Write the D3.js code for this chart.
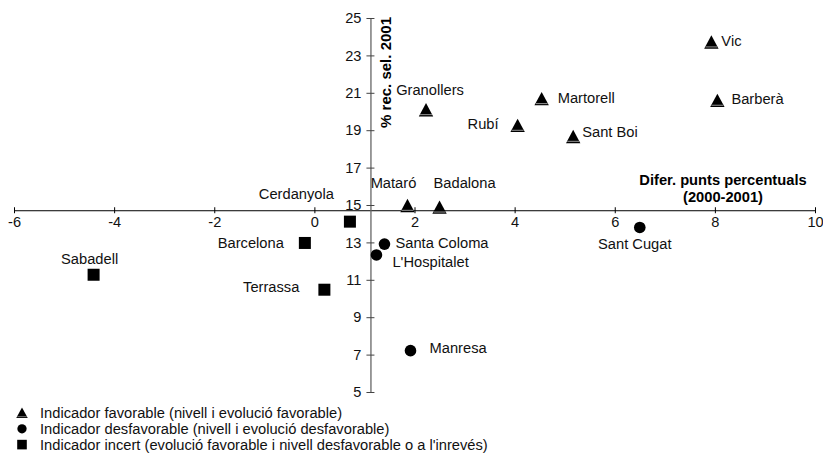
<!DOCTYPE html>
<html>
<head>
<meta charset="utf-8">
<script src="https://cdn.jsdelivr.net/npm/d3@7"></script>
<style>
  body { margin: 0; background: #fff; }
  svg { display: block; font-family: "Liberation Sans", Arial, Helvetica, sans-serif; }
</style>
</head>
<body>
<svg width="823" height="457"></svg>
<script>
// municipis, diferència 2000-2001 (x), % 2001 (y), tipus d'indicador
var names = ["Vic", "Granollers", "Martorell", "Barberà", "Rubí", "Sant Boi", "Mataró", "Badalona",
             "Sant Cugat", "Santa Coloma", "L'Hospitalet", "Manresa",
             "Cerdanyola", "Barcelona", "Sabadell", "Terrassa"];
var diffValues = [7.93, 2.23, 4.54, 8.05, 4.06, 5.17, 1.86, 2.5,
                  6.5, 1.4, 1.24, 1.92,
                  0.71, -0.19, -4.41, 0.2];
var pctValues = [23.7, 20.08, 20.67, 20.58, 19.24, 18.65, 14.96, 14.87,
                 13.8, 12.91, 12.33, 7.21,
                 14.11, 12.97, 11.27, 10.47];
var kinds = ["fav", "fav", "fav", "fav", "fav", "fav", "fav", "fav",
             "desf", "desf", "desf", "desf",
             "inc", "inc", "inc", "inc"];

var xTicks = [-6, -4, -2, 0, 2, 4, 6, 8, 10];
var yTicks = [5, 7, 9, 11, 13, 15, 17, 19, 21, 23, 25];
var xCross = 14.72;  // on talla l'eix X
var yCross = 1.12;   // on talla l'eix Y

var legendKinds = ["fav", "desf", "inc"];
var legendTexts = ["Indicador favorable (nivell i evolució favorable)",
                   "Indicador desfavorable (nivell i evolució desfavorable)",
                   "Indicador incert (evolució favorable i nivell desfavorable o a l'inrevés)"];

var svg = d3.select("svg");

var x = d3.scaleLinear().domain([-6, 10]).range([14, 815]);
var y = d3.scaleLinear().domain([5, 25]).range([392, 18]);

// eix X
var gx = svg.append("g").attr("transform", "translate(0," + y(xCross) + ")")
  .call(d3.axisBottom(x).tickValues(xTicks).tickSize(3).tickSizeOuter(0));
gx.select(".domain").attr("stroke", "#000");
gx.selectAll(".tick line").attr("y1", -3).attr("y2", 3).attr("stroke", "#000");
gx.selectAll(".tick text").attr("y", 17).attr("dy", 0).attr("font-size", 14.6)
  .attr("font-family", null).attr("fill", "#111")
  .text(function(d) { return d; });

// eix Y
var gy = svg.append("g").attr("transform", "translate(" + x(yCross) + ",0)")
  .call(d3.axisLeft(y).tickValues(yTicks).tickSize(4).tickSizeOuter(0));
gy.select(".domain").attr("stroke", "#666").attr("stroke-width", 1.3);
gy.selectAll(".tick line").attr("x1", 4).attr("x2", -4).attr("stroke", "#444");
gy.selectAll(".tick text").attr("x", -9).attr("font-size", 14.6)
  .attr("font-family", null).attr("fill", "#111");

// títols d'eixos
svg.append("text")
  .attr("transform", "translate(" + (x(yCross) + 21) + "," + 17 + ") rotate(-90)")
  .attr("text-anchor", "end")
  .attr("font-size", 15).attr("font-weight", "bold")
  .text("% rec. sel. 2001");
svg.append("text").attr("x", 723).attr("y", 185)
  .attr("text-anchor", "middle").attr("font-size", 14.7).attr("font-weight", "bold")
  .text("Difer. punts percentuals");
svg.append("text").attr("x", 723).attr("y", 202)
  .attr("text-anchor", "middle").attr("font-size", 14.7).attr("font-weight", "bold")
  .text("(2000-2001)");

function drawMarker(sel, kind) {
  if (kind === "fav") {
    sel.append("path").attr("d", "M0,-7L7.2,6.4L-7.2,6.4Z").attr("fill", "#000");
    sel.append("line").attr("x1", -6).attr("x2", 6).attr("y1", 4.6).attr("y2", 4.6)
      .attr("stroke", "#888").attr("stroke-width", 1.1);
  } else if (kind === "desf") {
    sel.append("circle").attr("r", 5.8).attr("fill", "#000");
  } else {
    sel.append("rect").attr("x", -6).attr("y", -6).attr("width", 12).attr("height", 12).attr("fill", "#000");
  }
}

var pts = names.map(function(n, i) {
  return { name: n, dx: diffValues[i], pct: pctValues[i], kind: kinds[i] };
});

// posició de cada etiqueta respecte del punt: [ancoratge, dx, dy]
var labelPos = {
  "Vic": ["start", 10, 4], "Granollers": ["middle", 4, -15], "Martorell": ["start", 16, 4],
  "Barberà": ["start", 14, 3], "Rubí": ["end", -19, 3], "Sant Boi": ["start", 9, 0],
  "Mataró": ["middle", -14, -18], "Badalona": ["middle", 25, -19],
  "Sant Cugat": ["middle", -5, 22], "Santa Coloma": ["start", 11, 4],
  "L'Hospitalet": ["start", 16, 12], "Manresa": ["start", 19, 2],
  "Cerdanyola": ["end", -16, -23], "Barcelona": ["end", -21, 5],
  "Sabadell": ["middle", -4, -11], "Terrassa": ["end", -25, 2]
};

var g = svg.append("g").selectAll("g").data(pts).enter().append("g")
  .attr("transform", function(d) { return "translate(" + x(d.dx) + "," + y(d.pct) + ")"; });
g.each(function(d) { drawMarker(d3.select(this), d.kind); });
g.append("text")
  .attr("font-size", 14.7).attr("fill", "#111")
  .attr("text-anchor", function(d) { return labelPos[d.name][0]; })
  .attr("x", function(d) { return labelPos[d.name][1]; })
  .attr("y", function(d) { return labelPos[d.name][2]; })
  .text(function(d) { return d.name; });

// llegenda
var lg = svg.append("g").selectAll("g").data(legendKinds).enter().append("g")
  .attr("transform", function(d, i) { return "translate(22," + (413 + i * 15.8) + ")"; });
lg.each(function(d) {
  var s = d3.select(this).append("g").attr("transform", "scale(0.8)");
  drawMarker(s, d);
});
lg.append("text").attr("x", 18).attr("y", 5).attr("font-size", 14.7).attr("fill", "#111")
  .text(function(d, i) { return legendTexts[i]; });
</script>
</body>
</html>
